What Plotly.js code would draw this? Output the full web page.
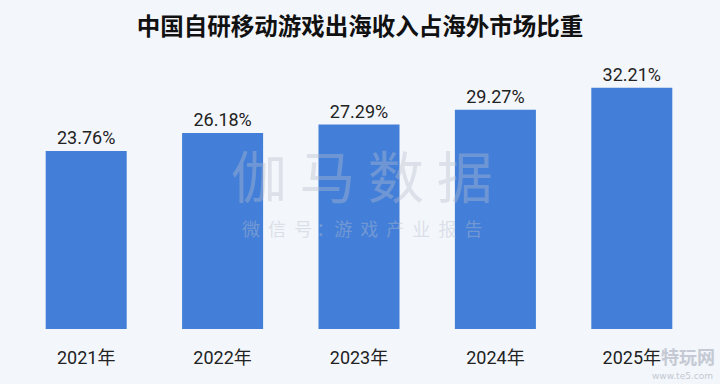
<!DOCTYPE html>
<html>
<head>
<meta charset="utf-8">
<script src="https://cdn.plot.ly/plotly-3.0.1.min.js"></script>
<style>
html,body{margin:0;padding:0;background:#f3f6fb;}
#chart{width:720px;height:384px;}
</style>
</head>
<body>
<div id="chart"></div>
<script>
const categories = ["2021年", "2022年", "2023年", "2024年", "2025年"];
const shareValues = [23.76, 26.18, 27.29, 29.27, 32.21];
const valueLabels = ["23.76%", "26.18%", "27.29%", "29.27%", "32.21%"];
const chartTitle = "中国自研移动游戏出海收入占海外市场比重";

const bg = "#f3f6fb";
const barColor = "#437fd8";
const textColor = "#222222";
const numFont = "Roboto, Noto Sans CJK SC, sans-serif";

const trace = {
  type: "bar",
  x: categories,
  y: shareValues,
  text: valueLabels,
  textposition: "outside",
  cliponaxis: false,
  textfont: {family: numFont, size: 18, color: textColor},
  marker: {color: barColor, line: {width: 0}},
  hoverinfo: "skip"
};

const layout = {
  width: 720,
  height: 384,
  paper_bgcolor: bg,
  plot_bgcolor: bg,
  margin: {l: 18, r: 20, t: 70, b: 55},
  bargap: 0.406,
  showlegend: false,
  title: {
    text: "<b>" + chartTitle + "</b>",
    font: {family: "Noto Sans CJK SC, sans-serif", size: 23.5, color: "#111111"},
    x: 0.5, xanchor: "center", y: 0.93, yanchor: "middle"
  },
  xaxis: {
    type: "category",
    showgrid: false, zeroline: false, showline: false,
    ticks: "", ticklabelstandoff: 16,
    tickfont: {family: numFont, size: 18, color: textColor}
  },
  yaxis: {
    range: [0, 34.58],
    visible: false, showgrid: false, zeroline: false, fixedrange: true
  },
  annotations: [
    {xref: "paper", yref: "paper", x: 0.505, y: 0.6, xanchor: "center", yanchor: "middle",
     text: "伽 马 数 据", showarrow: false,
     font: {family: "Noto Sans CJK SC, sans-serif", size: 56, color: "rgba(185,190,205,0.38)"}},
    {xref: "paper", yref: "paper", x: 0.505, y: 0.39, xanchor: "center", yanchor: "middle",
     text: "微  信  号 ：游  戏  产  业  报  告", showarrow: false,
     font: {family: "Noto Sans CJK SC, sans-serif", size: 18, color: "rgba(185,190,205,0.42)"}},
    {xref: "paper", yref: "paper", x: 1.025, y: -0.105, xanchor: "right", yanchor: "middle",
     text: "<b>特玩网</b>", showarrow: false,
     font: {family: "Noto Sans CJK SC, sans-serif", size: 18, color: "#c4c9d3"}},
    {xref: "paper", yref: "paper", x: 1.022, y: -0.182, xanchor: "right", yanchor: "middle",
     text: "www.te5.com", showarrow: false,
     font: {family: "DejaVu Sans, sans-serif", size: 9, color: "#c4c9d3"}}
  ]
};

Plotly.newPlot("chart", [trace], layout, {displayModeBar: false, staticPlot: true});
</script>
</body>
</html>
